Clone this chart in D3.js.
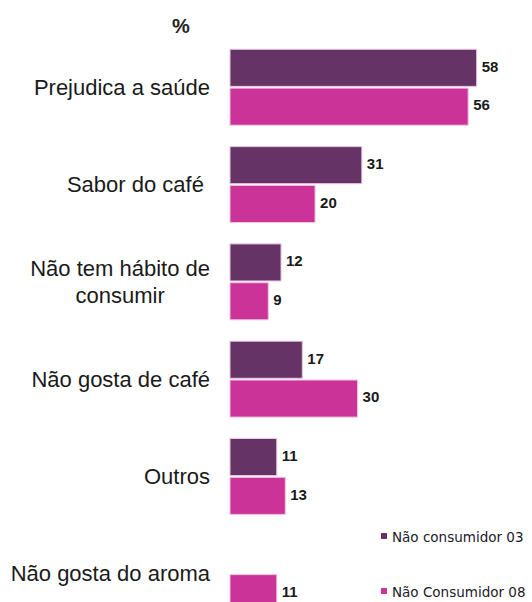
<!DOCTYPE html>
<html>
<head>
<meta charset="utf-8">
<script src="https://cdn.jsdelivr.net/npm/d3@7"></script>
<style>
  html, body { margin: 0; padding: 0; background: #fff; }
  svg { display: block; }
  text { font-family: "Liberation Sans", Arial, sans-serif; white-space: pre; }
  text.legend-label { font-family: "DejaVu Sans", Verdana, sans-serif; }
</style>
</head>
<body>
<svg id="chart" width="532" height="602"></svg>
<script>
// Motivos para não consumir café (%)
const categories = [
  ["Prejudica a saúde"],
  ["Sabor do café "],
  ["Não tem hábito de", "consumir"],
  ["Não gosta de café"],
  ["Outros"],
  ["Não gosta do aroma"]
];
const seriesNames = ["Não consumidor 03", "Não Consumidor 08"];
const values03 = [58, 31, 12, 17, 11, null];
const values08 = [56, 20, 9, 30, 13, 11];
const colors = ["#663366", "#CC3399"];

const svg = d3.select("#chart");
const keys = categories.map((c, i) => "c" + i);

const y0 = d3.scaleBand()
  .domain(keys)
  .range([49.3, 49.3 + 97.3 * (keys.length - 0.22)])
  .paddingInner(0.22)
  .paddingOuter(0);

const y1 = d3.scaleBand()
  .domain(seriesNames)
  .range([0, y0.bandwidth()])
  .paddingInner(0.045);

const x = d3.scaleLinear().domain([0, 60]).range([230, 230 + 60 * 4.253]);

const rows = keys.map((k, i) => ({
  key: k,
  lines: categories[i],
  vals: [
    { s: seriesNames[0], v: values03[i], c: colors[0] },
    { s: seriesNames[1], v: values08[i], c: colors[1] }
  ].filter(d => d.v != null)
}));

// "%" header
svg.append("text")
  .attr("x", 181).attr("y", 33)
  .attr("text-anchor", "middle")
  .attr("font-size", 20).attr("font-weight", "bold")
  .attr("fill", "#222")
  .text("%");

const g = svg.selectAll("g.grp").data(rows).join("g")
  .attr("class", "grp")
  .attr("transform", d => `translate(0,${y0(d.key)})`);

g.selectAll("rect").data(d => d.vals).join("rect")
  .attr("x", x(0))
  .attr("y", d => y1(d.s))
  .attr("width", d => x(d.v) - x(0))
  .attr("height", y1.bandwidth())
  .attr("fill", d => d.c)
  .attr("stroke", "#ecc6e2")
  .attr("stroke-width", 1);

g.selectAll("text.val").data(d => d.vals).join("text")
  .attr("class", "val")
  .attr("x", d => x(d.v) + 5)
  .attr("y", d => y1(d.s) + y1.bandwidth() / 2 + 3.8)
  .attr("font-size", 15).attr("font-weight", "bold")
  .attr("fill", "#1a1a1a")
  .text(d => d.v);

// Category labels, right-aligned; wrapped lines centred within their block
const labelRight = 210;
const lineGap = 26.7;
g.each(function (d) {
  const grp = d3.select(this);
  const cy = y0.bandwidth() / 2;
  const n = d.lines.length;
  const t = grp.append("text")
    .attr("font-size", 22)
    .attr("fill", "#1a1a1a");
  const tsp = d.lines.map((ln, j) => t.append("tspan")
    .attr("y", cy + 7.7 + (j - (n - 1) / 2) * lineGap)
    .text(ln));
  const widths = tsp.map(s => s.node().getComputedTextLength());
  const w = d3.max(widths);
  tsp.forEach(s => s.attr("x", labelRight - w / 2).attr("text-anchor", "middle"));
});

// Legend
const legend = svg.selectAll("g.leg").data(seriesNames).join("g")
  .attr("class", "leg")
  .attr("transform", (d, i) => `translate(381,${533 + i * 55})`);
legend.append("rect")
  .attr("width", 6).attr("height", 6)
  .attr("fill", (d, i) => colors[i]);
legend.append("text")
  .attr("class", "legend-label")
  .attr("x", 11).attr("y", 8.5)
  .attr("font-size", 13.5)
  .attr("fill", "#1a1a2a")
  .text(d => d);
</script>
</body>
</html>
